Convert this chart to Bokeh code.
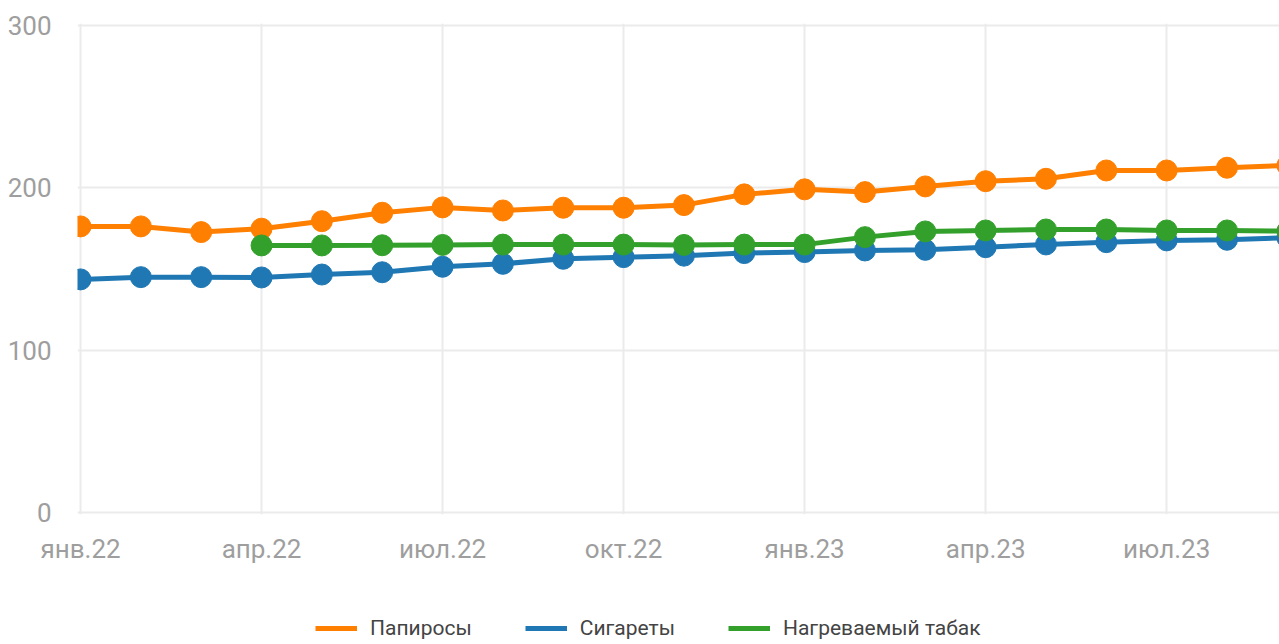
from bokeh.plotting import figure
from bokeh.layouts import column
from bokeh.models import FixedTicker, Range1d, Legend, LegendItem
from bokeh.embed import file_html
from bokeh.resources import INLINE

months = ["янв.22", "фев.22", "мар.22", "апр.22", "май.22", "июн.22", "июл.22",
          "авг.22", "сен.22", "окт.22", "ноя.22", "дек.22", "янв.23", "фев.23",
          "мар.23", "апр.23", "май.23", "июн.23", "июл.23", "авг.23", "сен.23"]
papirosy = [176.2, 176.2, 172.7, 174.8, 179.4, 184.6, 187.9, 186.0, 187.7, 187.7, 189.3,
            195.9, 199.0, 197.3, 200.8, 204.0, 205.5, 210.6, 210.6, 212.3, 213.7]
sigarety = [143.6, 145.0, 145.0, 144.8, 146.6, 148.0, 151.4, 153.2, 156.3, 157.3, 158.2,
            159.8, 160.4, 161.4, 161.8, 163.4, 165.1, 166.5, 167.6, 168.0, 169.2]
nagrev = [None, None, None, 164.5, 164.5, 164.6, 164.8, 165.0, 165.0, 165.0, 164.8,
          165.0, 165.0, 169.6, 173.1, 173.7, 174.3, 174.3, 173.7, 173.7, 173.3]
tick_idx = [0, 3, 6, 9, 12, 15, 18]
y_ticks = [0, 100, 200, 300]
names = ["Папиросы", "Сигареты", "Нагреваемый табак"]
colors = ["#ff7f00", "#1f78b4", "#33a02c"]

FONT = "Roboto"
GRAY = "#9e9e9e"

p1 = figure(width=1279, height=600, output_backend="svg", toolbar_location=None,
            x_range=Range1d(-0.05, 19.87), y_range=Range1d(-1, 301),
            min_border_left=77, min_border_right=0, min_border_top=23,
            min_border_bottom=86)
p1.outline_line_color = None

p1.xgrid.ticker = FixedTicker(ticks=tick_idx)
p1.ygrid.ticker = FixedTicker(ticks=y_ticks)
for g in (p1.xgrid, p1.ygrid):
    g.grid_line_color = "#ebebeb"
    g.grid_line_width = 2

p1.xaxis.ticker = FixedTicker(ticks=tick_idx)
p1.xaxis.major_label_overrides = {i: months[i] for i in tick_idx}
p1.yaxis.ticker = FixedTicker(ticks=y_ticks)
for ax in (p1.xaxis, p1.yaxis):
    ax.axis_line_color = None
    ax.major_tick_line_color = None
    ax.minor_tick_line_color = None
    ax.major_tick_out = 0
    ax.major_tick_in = 0
    ax.major_label_text_color = GRAY
    ax.major_label_text_font = FONT
    ax.major_label_text_font_size = "26px"
p1.xaxis.major_label_standoff = 19
p1.yaxis.major_label_standoff = 26

x = list(range(len(months)))
for name, vals, col in zip(names, [papirosy, sigarety, nagrev], colors):
    xs = [xi for xi, v in zip(x, vals) if v is not None]
    ys = [v for v in vals if v is not None]
    p1.line(xs, ys, line_color=col, line_width=5)
    p1.scatter(xs, ys, size=21, fill_color=col, line_color=col)

# legend strip below the chart
p2 = figure(width=1279, height=44, output_backend="svg", toolbar_location=None,
            x_axis_type=None, y_axis_type=None,
            x_range=Range1d(0, 1), y_range=Range1d(0, 1),
            min_border_left=0, min_border_right=0, min_border_top=0,
            min_border_bottom=0)
p2.outline_line_color = None
p2.grid.visible = False
items = []
for name, col in zip(names, colors):
    r = p2.line([float("nan")], [float("nan")], line_color=col, line_width=5)
    items.append(LegendItem(label=name, renderers=[r]))
legend = Legend(items=items, orientation="horizontal", location=(238, 4),
                glyph_width=42, glyph_height=20, label_height=20,
                label_standoff=13, spacing=53, padding=0, margin=0,
                label_text_font=FONT, label_text_font_size="21px",
                label_text_color="#444444", border_line_color=None,
                background_fill_alpha=0)
p2.add_layout(legend, "center")

p = column(p1, p2, spacing=0)
open("out.html", "w").write(file_html(p, INLINE))
